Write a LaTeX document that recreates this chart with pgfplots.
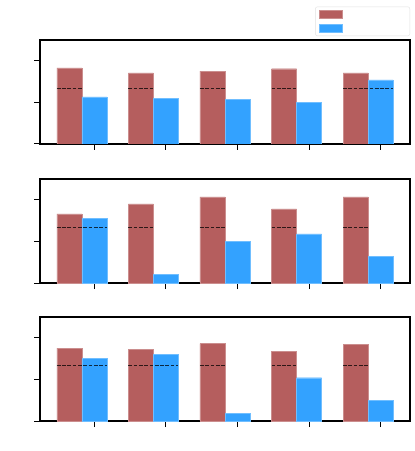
\documentclass[border=0pt]{standalone}
\usepackage{pgfplots}
\pgfplotsset{compat=1.18}
\definecolor{barred}{RGB}{181,94,94}
\definecolor{barblue}{RGB}{51,162,255}
\pgfplotsset{
  panel/.style={
    scale only axis, width=370pt, height=104pt,
    anchor=south west,
    xmin=-0.76, xmax=4.41, ymin=0, ymax=2.5,
    xtick={0,1,2,3,4}, ytick={0,1,2},
    xticklabels={}, yticklabels={},
    tick align=outside, xtick pos=bottom, ytick pos=left,
    major tick length=6pt,
    tick style={black, line width=1pt},
    axis line style={line width=1.2pt},
    unbounded coords=jump,
  },
  redbar/.style={ybar, bar width=0.35, bar shift=0pt, fill=barred, draw=barred!70!white, line width=0.4pt},
  bluebar/.style={ybar, bar width=0.35, bar shift=0pt, fill=barblue, draw=barblue!70!white, line width=0.4pt},
  ref/.style={sharp plot, no marks, black, opacity=0.75, line width=1.5pt, dash pattern=on 3.7pt off 1.6pt, forget plot},
}
\begin{document}
\begin{tikzpicture}
\useasboundingbox (0,0) rectangle (415pt,451pt);

% top panel
\begin{axis}[panel, at={(40pt,307pt)},
  legend style={at={(1,1)}, anchor=south east, yshift=4pt,
    draw=black!12, rounded corners=2pt, inner xsep=4pt, inner ysep=3pt,
    row sep=4pt, nodes={inner sep=0pt}},
  legend image code/.code={\fill[#1, sharp corners] (0pt,-4pt) rectangle (23pt,4pt);},
  legend cell align=left]
\addplot[redbar] coordinates {(-0.35,1.83) (0.65,1.71) (1.65,1.75) (2.65,1.81) (3.65,1.71)};
\addlegendentry{\rule{0pt}{8pt}\hspace*{63pt}}
\addplot[bluebar] coordinates {(0,1.13) (1,1.09) (2,1.08) (3,1.00) (4,1.54)};
\addlegendentry{\rule{0pt}{8pt}\hspace*{63pt}}
\addplot[ref] coordinates {
  (-0.525,1.33) (-0.175,1.33) (0,nan)
  (0.475,1.33) (0.825,1.33) (1,nan)
  (1.475,1.33) (1.825,1.33) (2,nan)
  (2.475,1.33) (2.825,1.33) (3,nan)
  (3.475,1.33) (4.175,1.33)};
\end{axis}

% middle panel
\begin{axis}[panel, at={(40pt,168pt)}]
\addplot[redbar] coordinates {(-0.35,1.66) (0.65,1.90) (1.65,2.07) (2.65,1.78) (3.65,2.07)};
\addplot[bluebar] coordinates {(0,1.56) (1,0.21) (2,1.00) (3,1.18) (4,0.64)};
\addplot[ref] coordinates {
  (-0.525,1.33) (0.175,1.33) (0.3,nan)
  (0.475,1.33) (0.825,1.33) (1,nan)
  (1.475,1.33) (1.825,1.33) (2,nan)
  (2.475,1.33) (2.825,1.33) (3,nan)
  (3.475,1.33) (3.825,1.33)};
\end{axis}

% bottom panel
\begin{axis}[panel, at={(40pt,30pt)}]
\addplot[redbar] coordinates {(-0.35,1.75) (0.65,1.73) (1.65,1.86) (2.65,1.68) (3.65,1.84)};
\addplot[bluebar] coordinates {(0,1.50) (1,1.60) (2,0.18) (3,1.04) (4,0.50)};
\addplot[ref] coordinates {
  (-0.525,1.33) (0.175,1.33) (0.3,nan)
  (0.475,1.33) (1.175,1.33) (1.3,nan)
  (1.475,1.33) (1.825,1.33) (2,nan)
  (2.475,1.33) (2.825,1.33) (3,nan)
  (3.475,1.33) (3.825,1.33)};
\end{axis}
\end{tikzpicture}
\end{document}
